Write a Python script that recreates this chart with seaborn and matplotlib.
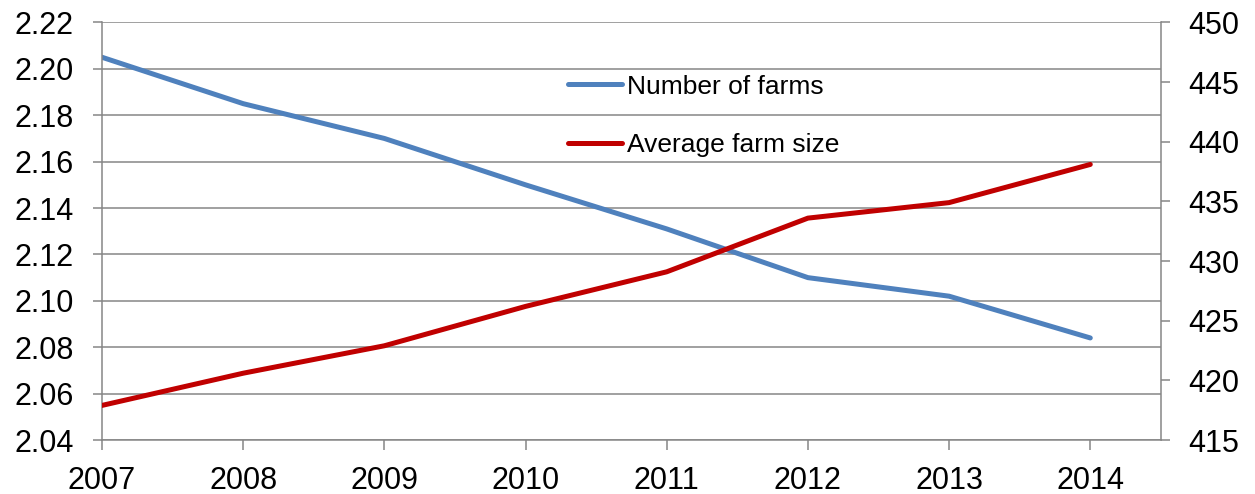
import pandas as pd
import numpy as np
import matplotlib
matplotlib.use("Agg")
import matplotlib.pyplot as plt
import seaborn as sns

# values
years = [2007, 2008, 2009, 2010, 2011, 2012, 2013, 2014]
number_of_farms = [2.205, 2.185, 2.170, 2.150, 2.131, 2.110, 2.102, 2.084]  # millions, left axis
avg_farm_size = [417.9, 420.6, 422.9, 426.2, 429.1, 433.6, 434.9, 438.1]    # acres, right axis

left_ticks = [2.04, 2.06, 2.08, 2.10, 2.12, 2.14, 2.16, 2.18, 2.20, 2.22]
right_ticks = [415, 420, 425, 430, 435, 440, 445, 450]

df = pd.DataFrame({"year": years, "farms": number_of_farms, "size": avg_farm_size})

sns.set_style("white")
plt.rcParams["font.family"] = ["Liberation Sans", "DejaVu Sans"]
plt.rcParams["text.color"] = "black"

grey = "#868686"
blue = "#4F81BD"
red = "#C00000"

fig = plt.figure(figsize=(12.55, 4.94), dpi=100)
ax = fig.add_axes([0.0813, 0.1093, 0.8437, 0.8452])
ax2 = ax.twinx()

sns.lineplot(data=df, x="year", y="farms", ax=ax, color=blue, linewidth=3.6,
             label="Number of farms", legend=False, solid_capstyle="round")
sns.lineplot(data=df, x="year", y="size", ax=ax2, color=red, linewidth=3.6,
             label="Average farm size", legend=False, solid_capstyle="round")

ax.set_xlim(2007, 2014.5)
ax.set_ylim(2.04, 2.22)
ax2.set_ylim(415, 450)

ax.set_xticks(years)
ax.set_xticklabels([str(y) for y in years])
ax.set_yticks(left_ticks)
ax.set_yticklabels([f"{v:.2f}" for v in left_ticks])
ax2.set_yticks(right_ticks)
ax2.set_yticklabels([str(v) for v in right_ticks])

ax.grid(axis="y", color=grey, linewidth=1.1)
ax.set_axisbelow(True)
ax.set_xlabel("")
ax.set_ylabel("")
ax2.set_ylabel("")

for a in (ax, ax2):
    a.spines["top"].set_visible(False)
    for side in ("left", "right", "bottom"):
        a.spines[side].set_color(grey)
        a.spines[side].set_linewidth(1.1)
ax2.spines["left"].set_visible(False)
ax2.spines["bottom"].set_visible(False)
ax.spines["right"].set_visible(False)

ax.tick_params(axis="y", direction="out", length=6.5, width=1.1, color=grey,
               labelsize=22, labelcolor="black", pad=14, left=True)
ax.tick_params(axis="x", direction="out", length=7, width=1.1, color=grey,
               labelsize=22, labelcolor="black", pad=12, bottom=True)
ax2.tick_params(axis="y", direction="out", length=6.5, width=1.1, color=grey,
                labelsize=22, labelcolor="black", pad=13, right=True)

handles = ax.get_lines()[:1] + ax2.get_lines()[:1]
labels = ["Number of farms", "Average farm size"]
leg = ax2.legend(handles, labels, loc="upper left", bbox_to_anchor=(0.44, 0.875),
                 frameon=False, fontsize=19, handlelength=2.05, handletextpad=0.2,
                 labelspacing=1.3, borderpad=0, borderaxespad=0)
for t in leg.get_texts():
    t.set_color("black")

fig.savefig("out.png", dpi=100)
